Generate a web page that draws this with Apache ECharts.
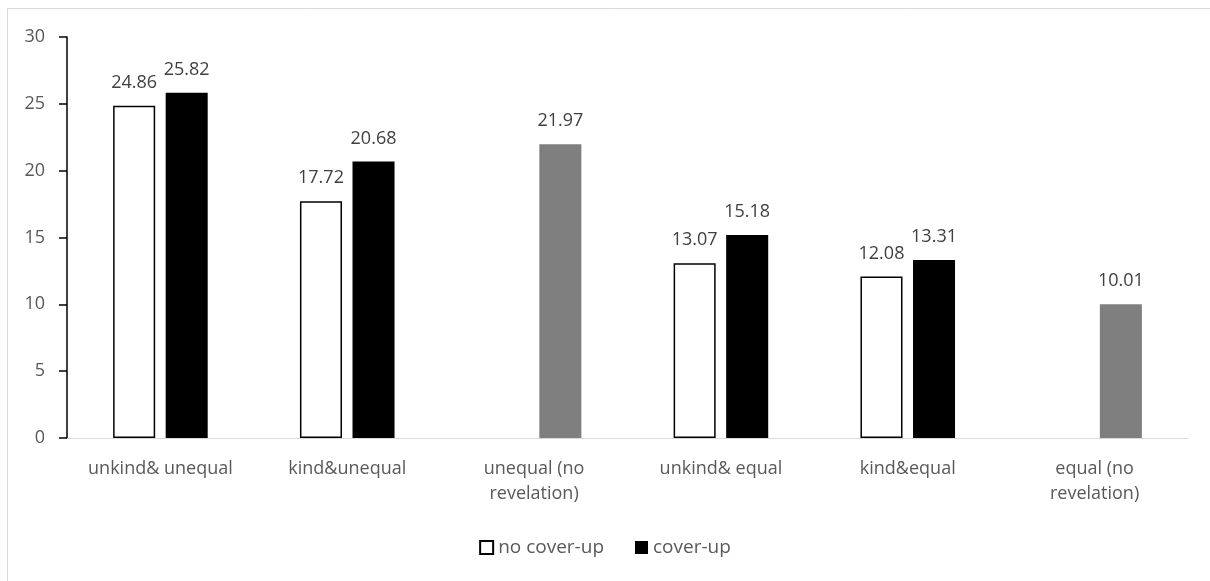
<!DOCTYPE html>
<html>
<head>
<meta charset="utf-8">
<script src="https://cdn.jsdelivr.net/npm/echarts@6/dist/echarts.min.js"></script>
<style>
  html, body { margin: 0; padding: 0; background: #fff; }
  #chart { width: 1210px; height: 581px; }
</style>
</head>
<body>
<div id="chart"></div>
<script>
// Treatment conditions along the x axis
const categories = [
  'unkind& unequal',
  'kind&unequal',
  'unequal (no revelation)',
  'unkind& equal',
  'kind&equal',
  'equal (no revelation)'
];
// Mean values per condition
const noCoverUp = [24.86, 17.72, null, 13.07, 12.08, null];
const coverUp = [25.82, 20.68, 21.97, 15.18, 13.31, 10.01];
// Conditions without a revelation stage are drawn in grey
const noRevelation = [false, false, true, false, false, true];
const yTicks = [0, 5, 10, 15, 20, 25, 30];

const FONT = '"Open Sans", Lato, sans-serif';
const TEXT = '#595959';

const chart = echarts.init(document.getElementById('chart'), null, { renderer: 'canvas' });

const labelStyle = {
  show: true,
  position: 'top',
  distance: 14,
  color: '#404040',
  fontFamily: FONT,
  fontSize: 18,
  formatter: p => p.value.toFixed(2)
};

chart.setOption({
  animation: false,
  backgroundColor: '#fff',
  textStyle: { fontFamily: FONT },
  graphic: [{
    type: 'rect',
    shape: { x: 7.5, y: 8.5, width: 1220, height: 600 },
    style: { fill: 'none', stroke: '#d9d9d9', lineWidth: 1 },
    silent: true,
    z: -1
  }],
  grid: { left: 67, right: 22, top: 37, bottom: 143, containLabel: false },
  legend: {
    bottom: 19,
    left: 'center',
    itemWidth: 13,
    itemHeight: 13,
    itemGap: 31,
    icon: 'rect',
    textStyle: { color: TEXT, fontSize: 19, fontFamily: FONT, padding: [0, 0, 0, 0] },
    data: ['no cover-up', 'cover-up']
  },
  xAxis: {
    type: 'category',
    data: categories,
    axisLine: { show: true, lineStyle: { color: '#d9d9d9', width: 1 } },
    axisTick: { show: false },
    axisLabel: {
      color: TEXT,
      fontSize: 18,
      fontFamily: FONT,
      margin: 18,
      lineHeight: 25,
      interval: 0,
      formatter: v => v.replace(' (no ', ' (no\n')
    }
  },
  yAxis: {
    type: 'value',
    min: yTicks[0],
    max: yTicks[yTicks.length - 1],
    interval: 5,
    splitLine: { show: false },
    axisLine: { show: true, lineStyle: { color: '#000', width: 1.5 } },
    axisTick: { show: true, inside: false, length: 8, lineStyle: { color: '#000', width: 1.5 } },
    axisLabel: { color: TEXT, fontSize: 18, fontFamily: FONT, margin: 22 }
  },
  series: [
    {
      name: 'no cover-up',
      type: 'bar',
      data: noCoverUp,
      barWidth: '22.5%',
      barGap: '25%',
      itemStyle: { color: '#ffffff', borderColor: '#000000', borderWidth: 1.5 },
      label: labelStyle
    },
    {
      name: 'cover-up',
      type: 'bar',
      data: coverUp.map((v, i) => ({
        value: v,
        itemStyle: noRevelation[i] ? { color: '#7f7f7f' } : undefined
      })),
      barWidth: '22.5%',
      barGap: '25%',
      itemStyle: { color: '#000000' },
      label: labelStyle
    }
  ]
});
</script>
</body>
</html>
